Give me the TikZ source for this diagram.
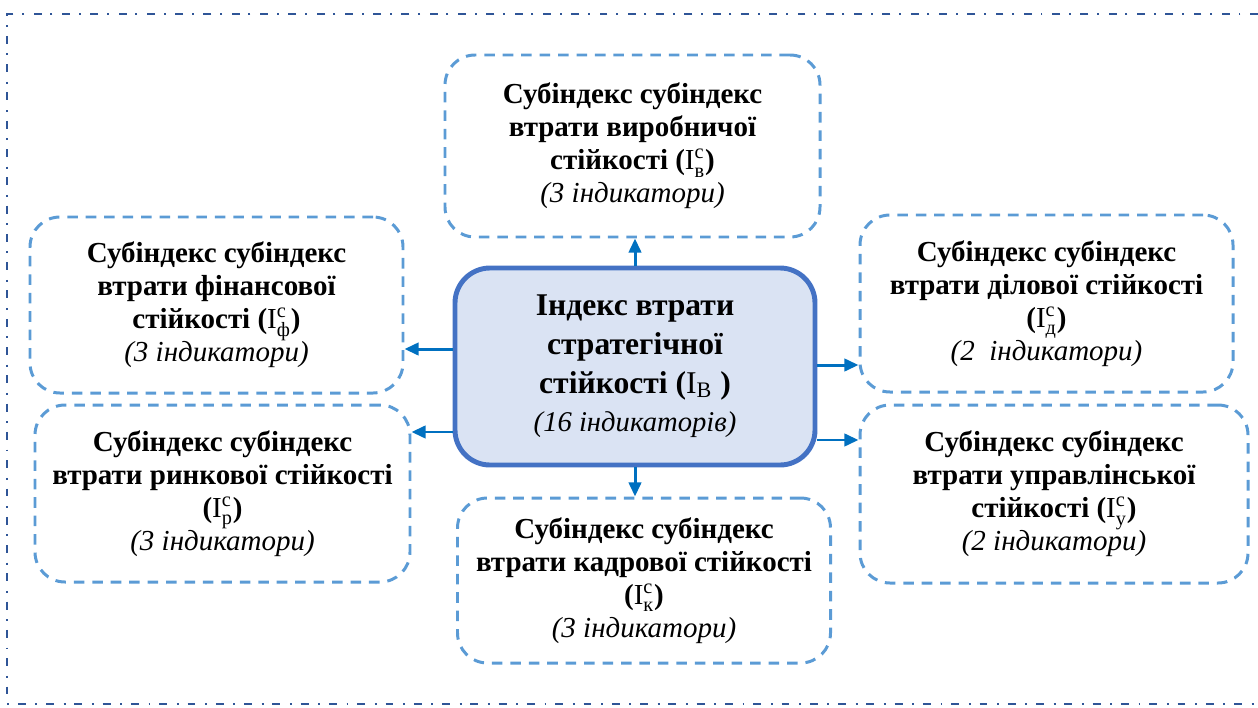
\documentclass[tikz,border=0pt]{standalone}
\usepackage{amsmath}
\usepackage{fontspec}
\setmainfont{Liberation Serif}
\usetikzlibrary{arrows.meta}
\definecolor{subblue}{HTML}{5B9BD5}
\definecolor{mainblue}{HTML}{4472C4}
\definecolor{mainfill}{HTML}{DAE3F3}
\definecolor{arrblue}{HTML}{0070C0}
\definecolor{framblue}{HTML}{2F5597}
\newcommand\idx[1]{\textnormal{I}$\vphantom{\textnormal{I}}^{\textnormal{c}}_{\textnormal{#1}}$}
\newcommand\cnt[1]{\\{\normalfont\itshape #1}}

\begin{document}
\begin{tikzpicture}[x=0.02cm,y=-0.02cm,
	subbox/.style={draw=subblue,line width=1.7pt,dash pattern=on 6pt off 4.5pt,rounded corners=0.6cm,
		align=center,inner sep=0pt,font=\fontsize{16.5}{18.8}\selectfont\bfseries},
	mainbox/.style={draw=mainblue,fill=mainfill,line width=2.8pt,rounded corners=0.7cm,
		align=center,inner sep=0pt,font=\fontsize{18}{22}\selectfont\bfseries},
	arr/.style={draw=arrblue,line width=1.7pt,-{Triangle[length=8pt,width=7pt]}},
	frame/.style={draw=framblue,line width=0.8pt,dash pattern=on 4.5pt off 5.5pt on 1.1pt off 5pt}]
	\useasboundingbox (0,0) rectangle (1258,707);
	\draw[frame] (1258,14) -- (7,14) -- (7,704) -- (1258,704);

	\node[mainbox,minimum width=360*0.02cm,minimum height=197*0.02cm] (ctr) at (635,366.5)
		{Індекс втрати\\стратегічної\\стійкості (\textnormal{I}$_{\textnormal{В}}$ )\\{\normalfont\itshape\fontsize{16.3}{22}\selectfont (16 індикаторів)}};

	\node[subbox,minimum width=375*0.02cm,minimum height=182*0.02cm] (vyr) at (632.5,146)
		{Субіндекс субіндекс\\втрати виробничої\\стійкості (\idx{в})\cnt{(3 індикатори)}};
	\node[subbox,minimum width=373*0.02cm,minimum height=176*0.02cm] (fin) at (216.5,305)
		{Субіндекс субіндекс\\втрати фінансової\\стійкості (\idx{ф})\cnt{(3 індикатори)}};
	\node[subbox,minimum width=373*0.02cm,minimum height=177*0.02cm] (dil) at (1046.5,303.5)
		{Субіндекс субіндекс\\втрати ділової стійкості\\(\idx{д})\cnt{(2~ індикатори)}};
	\node[subbox,minimum width=375*0.02cm,minimum height=177*0.02cm] (rynk) at (222.5,493.5)
		{Субіндекс субіндекс\\втрати ринкової стійкості\\(\idx{р})\cnt{(3 індикатори)}};
	\node[subbox,minimum width=388*0.02cm,minimum height=178*0.02cm] (upr) at (1054,494)
		{Субіндекс субіндекс\\втрати управлінської\\стійкості (\idx{у})\cnt{(2 індикатори)}};
	\node[subbox,minimum width=373*0.02cm,minimum height=165*0.02cm] (kadr) at (644,580.5)
		{Субіндекс субіндекс\\втрати кадрової стійкості\\(\idx{к})\cnt{(3 індикатори)}};

	\coordinate (l1) at ([yshift=0.35cm]ctr.west);
	\coordinate (l2) at ([yshift=-1.31cm]ctr.west);
	\coordinate (r1) at ([yshift=0.03cm]ctr.east);
	\coordinate (r2) at ([yshift=-1.47cm]ctr.east);
	\draw[arr] (ctr.north) -- (ctr.north |- vyr.south);
	\draw[arr] (ctr.south) -- (ctr.south |- kadr.north);
	\draw[arr] (l1) -- (l1 -| fin.east);
	\draw[arr] (l2) -- (l2 -| rynk.east);
	\draw[arr] (r1) -- (r1 -| dil.west);
	\draw[arr] (r2) -- (r2 -| upr.west);
\end{tikzpicture}
\end{document}
